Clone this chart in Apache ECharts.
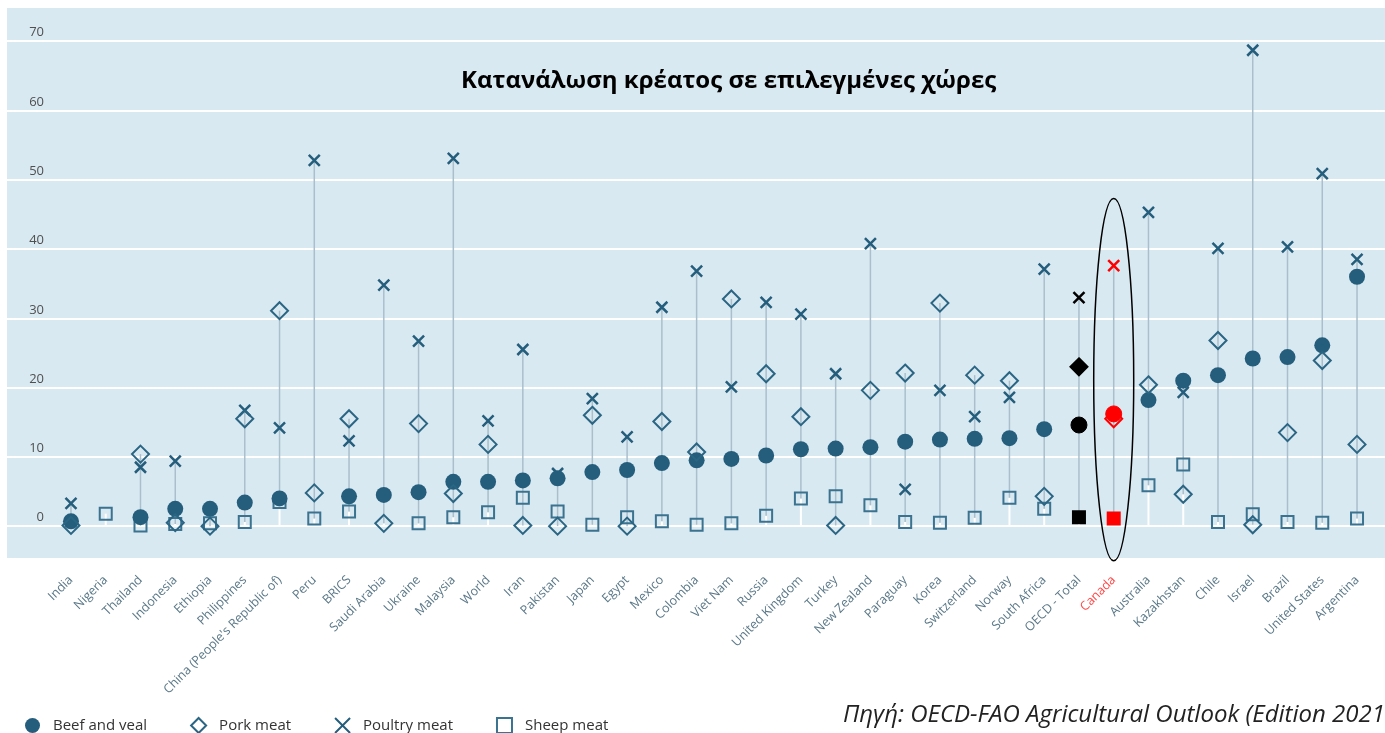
<!DOCTYPE html>
<html>
<head>
<meta charset="utf-8">
<script src="https://cdn.jsdelivr.net/npm/echarts@6/dist/echarts.min.js"></script>
<style>
  html, body { margin: 0; padding: 0; background: #fff; }
  #chart { width: 1385px; height: 733px; }
</style>
</head>
<body>
<div id="chart"></div>
<script>
// Κατανάλωση κρέατος σε επιλεγμένες χώρες (kg / κάτοικο)
const countries = [
    'India', 'Nigeria', 'Thailand', 'Indonesia', 'Ethiopia', 'Philippines',
    "China (People's Republic of)", 'Peru', 'BRICS', 'Saudi Arabia', 'Ukraine',
    'Malaysia', 'World', 'Iran', 'Pakistan', 'Japan', 'Egypt', 'Mexico', 'Colombia',
    'Viet Nam', 'Russia', 'United Kingdom', 'Turkey', 'New Zealand', 'Paraguay',
    'Korea', 'Switzerland', 'Norway', 'South Africa', 'OECD - Total', 'Canada',
    'Australia', 'Kazakhstan', 'Chile', 'Israel', 'Brazil', 'United States', 'Argentina',
]
const beefVeal = [
    0.7, null, 1.3, 2.5, 2.5, 3.4, 4.0, null, 4.3, 4.5, 4.9, 6.4, 6.4, 6.6, 6.9, 7.8,
    8.1, 9.1, 9.5, 9.7, 10.2, 11.1, 11.2, 11.4, 12.2, 12.5, 12.6, 12.7, 14.0, 14.6,
    16.2, 18.2, 21.0, 21.8, 24.2, 24.4, 26.1, 36.0,
]
const porkMeat = [
    0.1, null, 10.4, 0.5, 0.0, 15.5, 31.1, 4.8, 15.5, 0.4, 14.8, 4.7, 11.8, 0.1, 0.0, 16.0,
    0.0, 15.1, 10.7, 32.8, 22.0, 15.8, 0.1, 19.6, 22.1, 32.2, 21.8, 21.0, 4.3, 23.0,
    15.5, 20.4, 4.6, 26.8, 0.2, 13.5, 23.9, 11.8,
]
const poultryMeat = [
    3.3, null, 8.5, 9.4, null, 16.7, 14.2, 52.8, 12.3, 34.8, 26.7, 53.1, 15.2, 25.5, 7.6, 18.4,
    12.9, 31.6, 36.8, 20.1, 32.3, 30.6, 22.0, 40.8, 5.3, 19.6, 15.8, 18.6, 37.1, 33.0,
    37.6, 45.3, 19.3, 40.1, 68.7, 40.3, 50.9, 38.5,
]
const sheepMeat = [
    null, 1.8, 0.1, 0.3, 0.4, 0.6, 3.5, 1.1, 2.1, null, 0.4, 1.3, 2.0, 4.1, 2.1, 0.2,
    1.3, 0.7, 0.2, 0.4, 1.5, 4.0, 4.3, 3.0, 0.6, 0.5, 1.2, 4.1, 2.5, 1.3,
    1.1, 5.9, 8.9, 0.6, 1.7, 0.6, 0.5, 1.1,
]
const seriesNames = ['Beef and veal', 'Pork meat', 'Poultry meat', 'Sheep meat']

const TEAL = '#245e7c'
const OECD = 'OECD - Total'
const HIGHLIGHT = 'Canada'
const Y_MIN = -4.6
const Y_MAX = 74.8

const chart = echarts.init(document.getElementById('chart'))

// κάθε χώρα: από 0 ως το ελάχιστο (λευκή), από ελάχιστο ως μέγιστο (γκρι)
const rangeData = countries.map((c, i) => {
    const vals = [beefVeal[i], porkMeat[i], poultryMeat[i], sheepMeat[i]].filter((v) => v != null)
    return [i, Math.min(...vals), Math.max(...vals)]
})

function styled(values, baseColor, filledSpecial) {
    return values.map((v, i) => {
        const name = countries[i]
        if (name === OECD || name === HIGHLIGHT) {
            const col = name === OECD ? '#000' : '#ff0000'
            return {
                value: v,
                itemStyle: {
                    color: filledSpecial ? col : baseColor,
                    borderColor: col,
                },
            }
        }
        return v
    })
}

const option = {
    animation: false,
    backgroundColor: '#fff',
    textStyle: { fontFamily: 'Open Sans' },
    title: {
        text: 'Κατανάλωση κρέατος σε επιλεγμένες χώρες',
        left: 461,
        top: 69,
        padding: 0,
        textStyle: { fontSize: 24, fontWeight: 'bold', color: '#000', fontFamily: 'Open Sans' },
    },
    legend: {
        data: seriesNames,
        left: 20,
        top: 712,
        itemWidth: 15,
        itemHeight: 15,
        itemGap: 43,
        textStyle: { fontSize: 15, color: '#333', padding: [0, 0, 0, 8] },
    },
    grid: [
        { left: 53.6, right: 10.6, top: 8, bottom: 175 },
        { left: 7, right: 0, top: 8, bottom: 175, show: true, backgroundColor: '#d9e9f1', borderWidth: 0 },
    ],
    xAxis: [
        {
            type: 'category',
            gridIndex: 0,
            data: countries,
            axisLine: { show: false },
            axisTick: { show: false },
            axisLabel: {
                interval: 0,
                rotate: 45,
                margin: 20,
                fontSize: 12.5,
                color: '#5a7888',
                formatter: (v) => (v === HIGHLIGHT ? '{red|' + v + '}' : v),
                rich: { red: { color: '#ff4a4a', fontSize: 12.5 } },
            },
        },
        { type: 'value', gridIndex: 1, show: false, min: 0, max: 1 },
    ],
    yAxis: [
        { type: 'value', gridIndex: 0, min: Y_MIN, max: Y_MAX, show: false },
        {
            type: 'value',
            gridIndex: 1,
            min: Y_MIN,
            max: Y_MAX,
            minInterval: 10,
            maxInterval: 10,
            axisLine: { show: false },
            axisTick: { show: false },
            splitLine: { show: true, showMinLine: false, showMaxLine: false, lineStyle: { color: '#fff', width: 2 } },
            axisLabel: {
                inside: true,
                align: 'right',
                verticalAlign: 'bottom',
                margin: 37,
                padding: [0, 0, 2, 0],
                fontSize: 13,
                color: '#505050',
                formatter: (v) => (v >= 0 && v <= 70 && v % 10 === 0 ? String(v) : ''),
            },
        },
    ],
    series: [
        {
            type: 'custom',
            xAxisIndex: 0,
            yAxisIndex: 0,
            z: 2,
            silent: true,
            data: rangeData,
            renderItem: (params, api) => {
                const i = api.value(0)
                const p0 = api.coord([i, 0])
                const pMin = api.coord([i, api.value(1)])
                const pMax = api.coord([i, api.value(2)])
                return {
                    type: 'group',
                    children: [
                        { type: 'line', shape: { x1: p0[0], y1: p0[1], x2: pMin[0], y2: pMin[1] }, style: { stroke: '#fff', lineWidth: 2 } },
                        { type: 'line', shape: { x1: pMin[0], y1: pMin[1], x2: pMax[0], y2: pMax[1] }, style: { stroke: '#a9bfcc', lineWidth: 1.5 } },
                    ],
                }
            },
        },
        {
            name: 'Sheep meat',
            type: 'scatter',
            xAxisIndex: 0,
            yAxisIndex: 0,
            z: 3,
            symbol: 'rect',
            symbolSize: 12,
            itemStyle: { color: 'rgba(0,0,0,0)', borderColor: '#3a7290', borderWidth: 2, opacity: 1 },
            data: styled(sheepMeat, 'rgba(0,0,0,0)', true),
        },
        {
            name: 'Poultry meat',
            type: 'scatter',
            xAxisIndex: 0,
            yAxisIndex: 0,
            z: 4,
            symbol: 'path://M0,0L10,10M10,0L0,10',
            symbolSize: 11,
            itemStyle: { color: 'rgba(0,0,0,0)', borderColor: TEAL, borderWidth: 2.5, opacity: 1 },
            data: styled(poultryMeat, 'rgba(0,0,0,0)', false),
        },
        {
            name: 'Beef and veal',
            type: 'scatter',
            xAxisIndex: 0,
            yAxisIndex: 0,
            z: 5,
            symbol: 'circle',
            symbolSize: 16,
            itemStyle: { color: TEAL, opacity: 1 },
            data: styled(beefVeal, TEAL, true),
        },
        {
            name: 'Pork meat',
            type: 'scatter',
            xAxisIndex: 0,
            yAxisIndex: 0,
            z: 6,
            symbol: 'diamond',
            symbolSize: 17,
            itemStyle: { color: 'rgba(0,0,0,0)', borderColor: '#2a6584', borderWidth: 2, opacity: 1 },
            data: styled(porkMeat, 'rgba(0,0,0,0)', false).map((d, i) => {
                // ο συνολικός ΟΟΣΑ έχει γεμάτο ρόμβο
                if (countries[i] === OECD) return { value: porkMeat[i], itemStyle: { color: '#000', borderColor: '#000' } }
                return d
            }),
        },
    ],
}

chart.setOption(option)

// έλλειψη γύρω από τον Καναδά και πηγή
const ci = countries.indexOf(HIGHLIGHT)
const ellTop = chart.convertToPixel({ xAxisIndex: 0, yAxisIndex: 0 }, [ci, 47.3])
const ellBottom = chart.convertToPixel({ xAxisIndex: 0, yAxisIndex: 0 }, [ci, -5.0])
chart.setOption({
    graphic: [
        {
            type: 'ellipse',
            z: 10,
            silent: true,
            shape: { cx: ellTop[0], cy: (ellTop[1] + ellBottom[1]) / 2, rx: 20, ry: (ellBottom[1] - ellTop[1]) / 2 },
            style: { fill: 'none', stroke: '#000', lineWidth: 1.5 },
        },
        {
            type: 'text',
            left: 843,
            top: 703,
            z: 10,
            style: {
                text: 'Πηγή: OECD-FAO Agricultural Outlook (Edition 2021',
                fontFamily: 'Open Sans',
                fontStyle: 'italic',
                fontSize: 24,
                fill: '#222',
            },
        },
    ],
})

window.addEventListener('resize', () => chart.resize())
</script>
</body>
</html>
